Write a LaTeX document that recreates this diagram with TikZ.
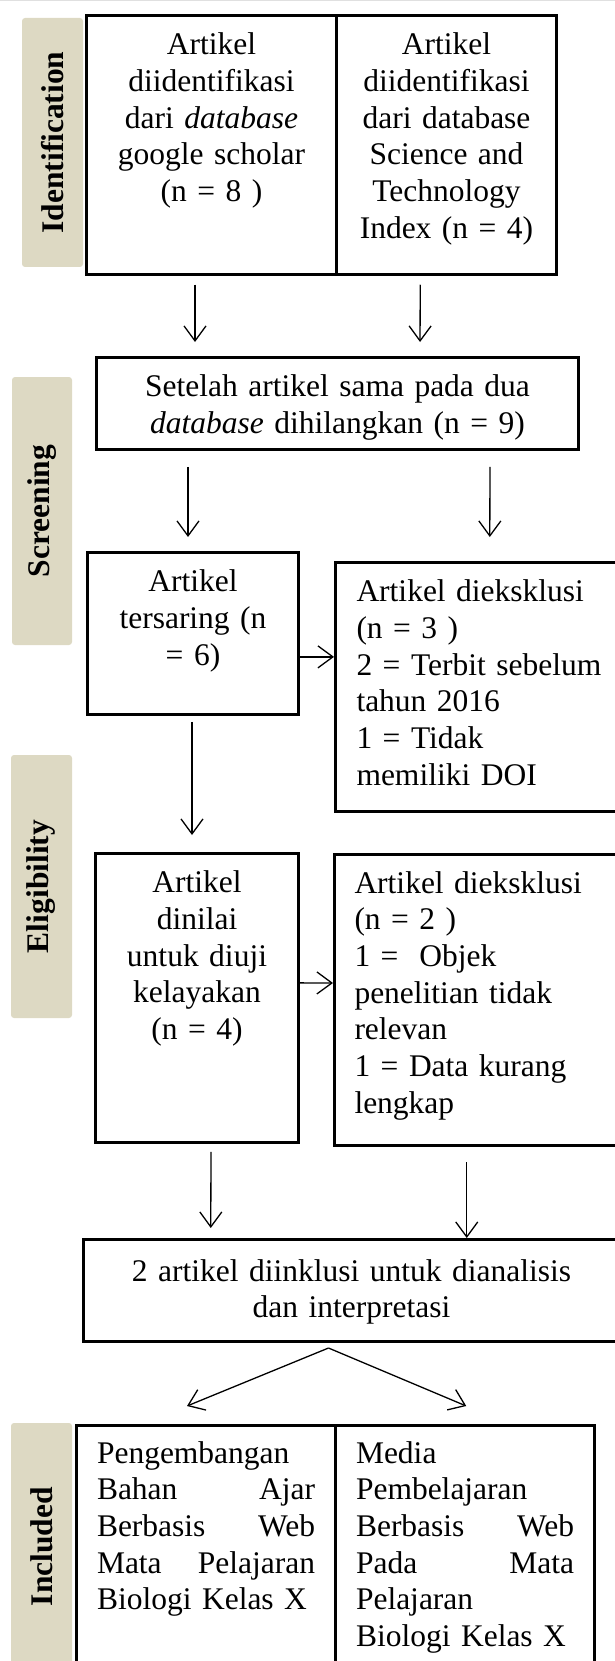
\documentclass[tikz,border=0pt]{standalone}
\usepackage{fontspec}
\setmainfont{Liberation Serif}
\usepackage{xcolor}
\usepackage{tikz}
\usetikzlibrary{arrows.meta,positioning}
\definecolor{phasetan}{RGB}{221,217,195}

\begin{document}
\begin{tikzpicture}[
            x=1pt, y=-1pt,
            font=\fontsize{31.5}{36.7}\selectfont,
            box/.style={rectangle, draw, line width=3pt, inner sep=0pt, text height=39.25pt, align=center},
            listbox/.style={box, align=left, text width=260pt, inner xsep=21pt},
            phase/.style={rectangle, rounded corners=3pt, fill=phasetan, inner sep=0pt, rotate=90, font=\fontsize{31.5}{36.7}\selectfont\bfseries},
            arrow/.style={-{Straight Barb[length=15pt,width=22pt]}, line width=1.3pt}
        ]
        \useasboundingbox (0,0) rectangle (615,1661);
        \clip (0,0) rectangle (615,1661);
        \draw[black!12, line width=1.5pt] (0,0.75) -- (615,0.75);
        
        \node[phase, minimum width=249pt, minimum height=61pt] (identification) at (52.5,142.5) {Identification};
        \node[phase, minimum width=268pt, minimum height=60pt] (screening) at (42,511) {Screening};
        \node[phase, minimum width=263pt, minimum height=61pt] (eligibility) at (41.5,886.5) {Eligibility};
        \node[phase, minimum width=247pt, minimum height=61pt] (included_phase) at (41.5,1546.5) {Included};
        
        \node[box, anchor=north west, text width=250pt, text depth=219.5pt] (google_db) at (85,14) {Artikel\\diidentifikasi\\dari \textit{database}\\google scholar\\(n = 8 )};
        \node[box, right=-3pt of google_db, text width=220pt, text depth=219.5pt] (sti_db) {Artikel\\diidentifikasi\\dari database\\Science and\\Technology\\Index (n = 4)};
        
        \node[box, anchor=north west, text width=482pt, text depth=52.5pt] (dedup) at (95,356) {Setelah artikel sama pada dua\\\textit{database} dihilangkan (n = 9)};
        
        \node[box, anchor=north west, text width=211pt, text depth=122.5pt] (screened) at (86,551) {Artikel\\tersaring (n\\= 6)};
        \node[listbox, anchor=north west, text depth=209.5pt] (excluded_a) at (334,561) {Artikel dieksklusi\\(n = 3 )\\2 = Terbit sebelum\\tahun 2016\\1 = Tidak\\memiliki DOI};
        
        \node[box, anchor=north west, text width=203pt, text depth=249.5pt] (assessed) at (94,852) {Artikel\\dinilai\\untuk diuji\\kelayakan\\(n = 4)};
        \node[listbox, anchor=north west, inner xsep=20pt, text height=38.5pt, text depth=252.5pt] (excluded_b) at (333,853) {Artikel dieksklusi\\(n = 2 )\\1 =\ \ Objek\\penelitian tidak\\relevan\\1 = Data kurang\\lengkap};
        
        \node[box, anchor=north west, text width=536pt, text height=41.5pt, text depth=60.5pt] (included) at (82,1238) {2 artikel diinklusi untuk dianalisis\\dan interpretasi};
        
        \node[box, anchor=north west, align=left, text width=218pt, inner xsep=20.5pt, text height=37.5pt, text depth=237pt] (study_a) at (75,1424) {Pengembangan\\Bahan\hfill Ajar\\Berbasis\hfill Web\\Mata\hfill Pelajaran\\Biologi Kelas X};
        \node[box, right=-3pt of study_a, align=left, text width=218pt, inner xsep=20.5pt, text height=37.5pt, text depth=237pt] (study_b) {Media\\Pembelajaran\\Berbasis\hfill Web\\Pada\hfill Mata\\Pelajaran\\Biologi Kelas X};
        
        \coordinate (split) at ([xshift=-23pt,yshift=-5pt]included.south);
        \coordinate (tip_a) at ([xshift=-19pt,yshift=18pt]study_a.north);
        \coordinate (tip_b) at ([xshift=1.25pt,yshift=18pt]study_b.north);
        
        \draw[arrow, shorten <=9pt, shorten >=14pt] ([xshift=-16.5pt]google_db.south) -- ([xshift=-142.5pt]dedup.north);
        \draw[arrow, shorten <=9pt, shorten >=14pt] ([xshift=-26.25pt]sti_db.south) -- ([xshift=82.5pt]dedup.north);
        \draw[arrow, shorten <=16pt, shorten >=14pt] ([xshift=-149.5pt]dedup.south) -- ([xshift=-5pt]screened.north);
        \draw[arrow, shorten <=16pt, shorten >=24pt] ([xshift=152.5pt]dedup.south) -- ([xshift=3.25pt]excluded_a.north);
        \draw[arrow] ([yshift=-23.5pt]screened.east) -- ([yshift=30pt]excluded_a.west);
        \draw[arrow, shorten <=6pt, shorten >=17pt] ([xshift=-1pt]screened.south) -- ([xshift=-5pt]assessed.north);
        \draw[arrow] ([yshift=15pt]assessed.east) -- ([yshift=17pt]excluded_b.west);
        \draw[arrow, shorten <=8pt, shorten >=10pt] ([xshift=14pt]assessed.south) -- ([xshift=-140.75pt]included.north);
        \draw[arrow, shorten <=15pt] ([xshift=-17.75pt]excluded_b.south) -- ([xshift=115.25pt]included.north);
        \draw[arrow] (split) -- (tip_a);
        \draw[arrow] (split) -- (tip_b);
        
        \end{tikzpicture}
\end{document}
